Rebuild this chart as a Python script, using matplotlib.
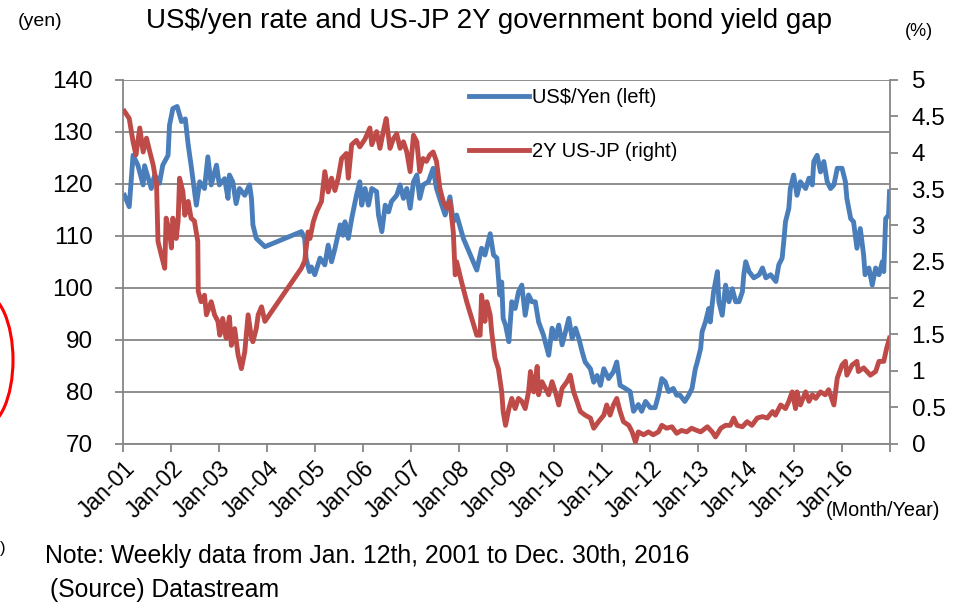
import numpy as np
import matplotlib.pyplot as plt
import matplotlib.transforms as mtransforms
from matplotlib.patches import Ellipse

plt.rcParams['font.family'] = ['Liberation Sans', 'DejaVu Sans']

# US$/yen, weekly readings (decimal year, yen) - gap 2004 as in source
usd_t = [2001.03, 2001.13, 2001.21, 2001.31, 2001.42, 2001.45, 2001.59, 2001.66, 2001.76, 2001.83,
         2001.94, 2001.97, 2002.04, 2002.13, 2002.22, 2002.30, 2002.36, 2002.42, 2002.53, 2002.60,
         2002.70, 2002.77, 2002.84, 2002.95, 2003.01, 2003.12, 2003.19, 2003.22, 2003.29, 2003.36,
         2003.43, 2003.54, 2003.64, 2003.68, 2003.71, 2003.78, 2003.96, 2004.72, 2004.79, 2004.82,
         2004.89, 2004.93, 2005.00, 2005.11, 2005.21, 2005.28, 2005.35, 2005.42, 2005.53, 2005.59,
         2005.63, 2005.70, 2005.77, 2005.87, 2005.94, 2005.98, 2006.05, 2006.12, 2006.19, 2006.29,
         2006.33, 2006.40, 2006.47, 2006.54, 2006.60, 2006.71, 2006.78, 2006.85, 2006.92, 2006.99,
         2007.06, 2007.13, 2007.19, 2007.26, 2007.37, 2007.47, 2007.54, 2007.65, 2007.72, 2007.82,
         2007.89, 2007.96, 2008.10, 2008.38, 2008.48, 2008.55, 2008.66, 2008.73, 2008.80, 2008.86,
         2008.90, 2008.93, 2008.98, 2009.05, 2009.11, 2009.18, 2009.25, 2009.32, 2009.39, 2009.46,
         2009.53, 2009.60, 2009.67, 2009.77, 2009.88, 2009.95, 2010.02, 2010.09, 2010.16, 2010.23,
         2010.30, 2010.37, 2010.44, 2010.51, 2010.58, 2010.64, 2010.75, 2010.82, 2010.89, 2010.96,
         2011.03, 2011.13, 2011.23, 2011.30, 2011.37, 2011.48, 2011.58, 2011.65, 2011.75, 2011.82,
         2011.90, 2012.00, 2012.10, 2012.17, 2012.24, 2012.31, 2012.38, 2012.48, 2012.55, 2012.62,
         2012.72, 2012.80, 2012.87, 2012.94, 2012.98, 2013.05, 2013.08, 2013.15, 2013.22, 2013.25,
         2013.32, 2013.40, 2013.43, 2013.50, 2013.57, 2013.64, 2013.71, 2013.78, 2013.85, 2013.92,
         2013.95, 2013.99, 2014.06, 2014.16, 2014.27, 2014.34, 2014.41, 2014.51, 2014.62, 2014.68,
         2014.75, 2014.79, 2014.82, 2014.89, 2014.92, 2014.99, 2015.06, 2015.13, 2015.24, 2015.31,
         2015.38, 2015.41, 2015.48, 2015.55, 2015.62, 2015.69, 2015.76, 2015.83, 2015.90, 2016.00,
         2016.07, 2016.10, 2016.18, 2016.24, 2016.31, 2016.38, 2016.45, 2016.48, 2016.56, 2016.63,
         2016.70, 2016.77, 2016.84, 2016.87, 2016.91, 2016.97, 2016.99]
usd_v = [117.8, 115.6, 125.5, 123.6, 119.8, 123.5, 119.1, 121.7, 120.1, 123.6,
         125.5, 131.3, 134.5, 134.9, 132.0, 132.5, 127.5, 123.6, 115.9, 120.4,
         119.1, 125.2, 119.8, 123.6, 119.8, 121.0, 117.2, 121.7, 120.4, 116.2,
         119.1, 117.8, 119.8, 117.2, 112.1, 109.5, 107.9, 110.8, 109.5, 105.6,
         103.1, 104.0, 102.5, 105.7, 104.4, 108.2, 105.0, 107.5, 112.1, 110.1,
         112.7, 109.5, 113.3, 117.8, 120.4, 115.9, 119.1, 115.9, 119.1, 118.5,
         114.0, 110.8, 115.9, 114.6, 116.6, 117.8, 119.8, 117.2, 119.1, 115.3,
         120.4, 121.7, 117.2, 119.8, 120.4, 123.0, 119.1, 115.9, 114.0, 117.5,
         112.7, 114.0, 109.5, 103.4, 107.6, 106.3, 110.4, 106.3, 105.7, 98.6,
         101.1, 94.1, 92.8, 89.6, 97.3, 96.0, 99.2, 100.5, 94.7, 98.6,
         97.3, 97.3, 93.4, 90.9, 87.0, 92.2, 90.2, 92.8, 89.0, 91.5,
         94.1, 90.2, 92.2, 90.2, 87.6, 85.7, 84.4, 81.8, 83.1, 81.2,
         84.4, 82.5, 83.8, 85.7, 81.2, 80.6, 80.0, 76.2, 77.5, 76.2,
         78.1, 76.9, 76.9, 79.3, 82.5, 81.9, 80.0, 80.6, 79.3, 79.3,
         78.1, 79.3, 80.6, 84.4, 85.7, 88.3, 91.5, 93.4, 96.0, 93.4,
         99.2, 103.1, 97.3, 94.7, 100.5, 97.3, 99.8, 97.3, 97.3, 99.2,
         102.5, 105.0, 103.1, 101.9, 102.5, 103.8, 101.9, 102.5, 101.2, 104.4,
         105.7, 109.5, 112.7, 115.3, 119.1, 121.7, 117.8, 120.4, 119.1, 121.1,
         119.8, 124.3, 125.5, 122.3, 124.3, 120.4, 119.1, 119.8, 123.0, 123.0,
         120.4, 117.2, 113.3, 112.7, 107.6, 111.4, 106.3, 102.5, 103.8, 100.5,
         103.8, 102.5, 105.0, 103.1, 113.3, 114.0, 118.5]

# 2Y US-JP government bond yield gap (decimal year, %)
gap_t = [2001.03, 2001.13, 2001.21, 2001.27, 2001.35, 2001.42, 2001.49, 2001.56, 2001.63, 2001.70,
         2001.73, 2001.80, 2001.87, 2001.90, 2001.97, 2002.01, 2002.04, 2002.11, 2002.15, 2002.18,
         2002.25, 2002.29, 2002.36, 2002.42, 2002.49, 2002.56, 2002.57, 2002.63, 2002.70, 2002.74,
         2002.84, 2002.91, 2002.98, 2003.02, 2003.08, 2003.15, 2003.22, 2003.26, 2003.33, 2003.40,
         2003.47, 2003.54, 2003.61, 2003.68, 2003.71, 2003.78, 2003.82, 2003.89, 2003.96, 2004.72,
         2004.79, 2004.86, 2004.90, 2004.97, 2005.04, 2005.14, 2005.21, 2005.28, 2005.35, 2005.42,
         2005.49, 2005.56, 2005.66, 2005.70, 2005.77, 2005.87, 2005.94, 2006.05, 2006.15, 2006.19,
         2006.29, 2006.36, 2006.43, 2006.49, 2006.57, 2006.64, 2006.71, 2006.78, 2006.85, 2006.92,
         2006.99, 2007.06, 2007.13, 2007.19, 2007.26, 2007.33, 2007.40, 2007.47, 2007.54, 2007.61,
         2007.68, 2007.75, 2007.82, 2007.89, 2007.93, 2007.96, 2008.06, 2008.17, 2008.38, 2008.45,
         2008.48, 2008.55, 2008.59, 2008.66, 2008.69, 2008.76, 2008.83, 2008.90, 2008.93, 2008.98,
         2009.05, 2009.11, 2009.18, 2009.25, 2009.32, 2009.39, 2009.46, 2009.50, 2009.57, 2009.64,
         2009.67, 2009.74, 2009.81, 2009.88, 2009.95, 2010.02, 2010.09, 2010.16, 2010.26, 2010.33,
         2010.40, 2010.47, 2010.54, 2010.64, 2010.75, 2010.82, 2010.92, 2011.03, 2011.09, 2011.16,
         2011.23, 2011.30, 2011.37, 2011.44, 2011.55, 2011.62, 2011.69, 2011.75, 2011.86, 2011.96,
         2012.06, 2012.17, 2012.24, 2012.34, 2012.45, 2012.55, 2012.65, 2012.76, 2012.86, 2012.97,
         2013.05, 2013.19, 2013.29, 2013.36, 2013.47, 2013.57, 2013.67, 2013.74, 2013.81, 2013.92,
         2014.02, 2014.12, 2014.23, 2014.34, 2014.44, 2014.55, 2014.61, 2014.72, 2014.82, 2014.89,
         2014.96, 2015.03, 2015.06, 2015.13, 2015.24, 2015.31, 2015.38, 2015.45, 2015.55, 2015.65,
         2015.72, 2015.83, 2015.90, 2016.00, 2016.07, 2016.10, 2016.21, 2016.31, 2016.34, 2016.45,
         2016.59, 2016.70, 2016.77, 2016.87, 2016.93, 2016.99]
gap_v = [4.57, 4.47, 4.15, 3.97, 4.34, 4.01, 4.20, 4.01, 3.83, 3.56,
         2.78, 2.59, 2.41, 3.10, 2.91, 2.69, 3.10, 2.82, 3.06, 3.65,
         3.46, 3.14, 3.33, 3.10, 3.06, 2.78, 2.09, 1.95, 2.04, 1.77,
         1.95, 1.77, 1.68, 1.49, 1.72, 1.45, 1.74, 1.35, 1.58, 1.22,
         1.03, 1.26, 1.77, 1.45, 1.40, 1.58, 1.77, 1.88, 1.68, 2.41,
         2.51, 2.91, 2.82, 3.05, 3.19, 3.33, 3.74, 3.46, 3.65, 3.48,
         3.65, 3.92, 3.99, 3.65, 4.11, 4.17, 4.08, 4.19, 4.34, 4.11,
         4.29, 4.06, 4.29, 4.47, 4.06, 4.19, 4.26, 4.06, 4.15, 4.01,
         3.74, 4.24, 4.15, 3.74, 3.92, 3.88, 3.97, 4.01, 3.88, 3.51,
         3.33, 3.24, 3.33, 2.91, 2.32, 2.50, 2.23, 1.95, 1.49, 1.49,
         2.04, 1.68, 1.95, 1.77, 1.54, 1.17, 1.03, 0.71, 0.44, 0.25,
         0.48, 0.62, 0.48, 0.62, 0.58, 0.48, 0.71, 0.99, 0.71, 1.06,
         0.67, 0.85, 0.76, 0.67, 0.85, 0.71, 0.53, 0.76, 0.85, 0.94,
         0.71, 0.58, 0.44, 0.39, 0.35, 0.21, 0.30, 0.39, 0.53, 0.39,
         0.53, 0.62, 0.44, 0.30, 0.25, 0.16, 0.02, 0.16, 0.12, 0.16,
         0.12, 0.16, 0.25, 0.21, 0.23, 0.14, 0.18, 0.16, 0.21, 0.18,
         0.16, 0.23, 0.16, 0.09, 0.21, 0.25, 0.25, 0.35, 0.25, 0.23,
         0.30, 0.25, 0.35, 0.37, 0.35, 0.44, 0.39, 0.53, 0.48, 0.58,
         0.71, 0.48, 0.71, 0.53, 0.71, 0.58, 0.67, 0.62, 0.71, 0.67,
         0.74, 0.53, 0.90, 1.08, 1.13, 0.94, 1.08, 1.13, 0.99, 1.04,
         0.94, 0.99, 1.13, 1.13, 1.31, 1.45]

years = list(range(2001, 2017))
year_labels = ['Jan-%02d' % (y % 100) for y in years]

blue = '#4a7ebb'
red = '#be4b48'
grid_c = '#868686'

fig = plt.figure(figsize=(9.62, 6.02), dpi=100)
ax = fig.add_axes([123 / 962, 1 - 443.5 / 602, 767 / 962, 363.5 / 602])
ax2 = ax.twinx()
ax.set_zorder(1)
ax2.set_zorder(2)

l1, = ax.plot(usd_t, usd_v, color=blue, lw=3.5, solid_joinstyle='round', label='US$/Yen (left)')
l2, = ax2.plot(gap_t, gap_v, color=red, lw=3.5, solid_joinstyle='round', label='2Y US-JP (right)')

ax.set_xlim(2001, 2017)
ax.set_ylim(70, 140)
ax2.set_ylim(0, 5)
ax.set_yticks(np.arange(70, 141, 10))
ax2.set_yticks(np.arange(0, 5.01, 0.5))
ax2.set_yticklabels(['0', '0.5', '1', '1.5', '2', '2.5', '3', '3.5', '4', '4.5', '5'])
ax.set_xticks(years)
ax.set_xticks([2017], minor=True)
ax.set_xticklabels(year_labels, rotation=45, ha='right', va='top', rotation_mode='anchor', fontsize=16.5)
shift = mtransforms.ScaledTranslation(4 / 100, -9 / 100, fig.dpi_scale_trans)
for lab in ax.get_xticklabels():
    lab.set_transform(lab.get_transform() + shift)

ax.grid(axis='y', color=grid_c, lw=1.3)
for a in (ax, ax2):
    for s in a.spines.values():
        s.set_visible(False)
for a, side in ((ax, 'left'), (ax, 'bottom'), (ax2, 'right')):
    a.spines[side].set_visible(True)
    a.spines[side].set_color(grid_c)
    a.spines[side].set_linewidth(1.3)

ax.tick_params(axis='y', direction='out', length=6, width=1.3, color=grid_c, labelsize=17.5, pad=15.5)
ax2.tick_params(axis='y', direction='out', length=6, width=1.3, color=grid_c, labelsize=17.5, pad=9.5)
ax.tick_params(axis='x', which='both', direction='out', length=6, width=1.3, color=grid_c)

ax.legend(handles=[l1, l2], loc='upper left', bbox_to_anchor=(0.44, 1.0), frameon=False,
          fontsize=14.5, handlelength=3.0, handletextpad=0.15, labelspacing=1.72, borderaxespad=0)

fig.text(489 / 962, 1 - 21 / 602, 'US$/yen rate and US-JP 2Y government bond yield gap',
         ha='center', va='center', fontsize=20)
fig.text(40 / 962, 1 - 21 / 602, '(yen)', ha='center', va='center', fontsize=14)
fig.text(919 / 962, 1 - 32 / 602, '(%)', ha='center', va='center', fontsize=13)
fig.text(883 / 962, 1 - 511 / 602, '(Month/Year)', ha='center', va='center', fontsize=14.3)
fig.text(45 / 962, 1 - 556 / 602, 'Note: Weekly data from Jan. 12th, 2001 to Dec. 30th, 2016',
         ha='left', va='center', fontsize=17.8)
fig.text(50 / 962, 1 - 590 / 602, '(Source) Datastream', ha='left', va='center', fontsize=17.8)
fig.text(0, 1 - 548 / 602, ')', ha='left', va='center', fontsize=12)

fig.patches.append(Ellipse((-17 / 962, 1 - 360 / 602), 60 / 962, 134 / 602, fill=False,
                           edgecolor='red', lw=2.2, transform=fig.transFigure, figure=fig))

fig.savefig('out.png', dpi=100)
